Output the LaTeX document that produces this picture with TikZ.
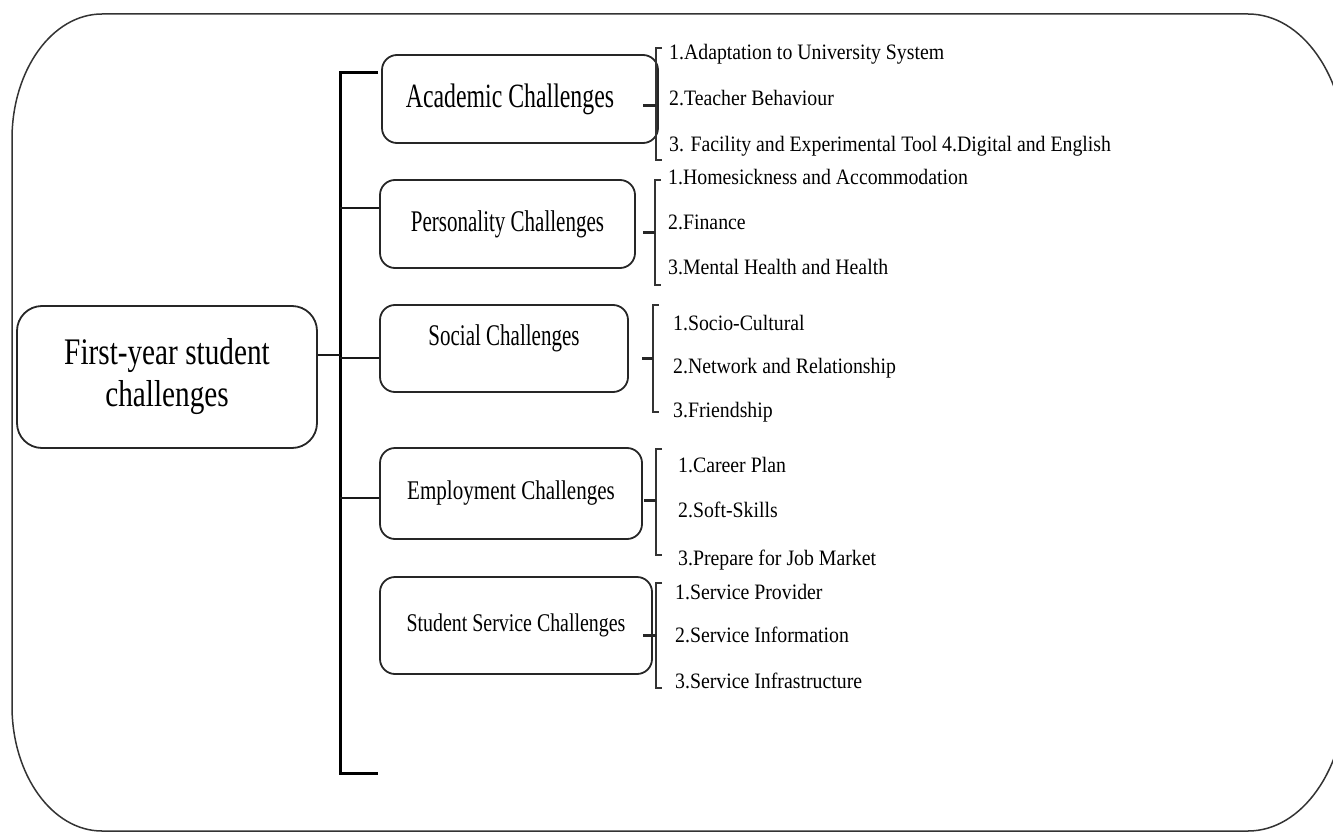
\documentclass[tikz,border=0pt]{standalone}
\usepackage{fontspec}
\setmainfont{Liberation Serif}
\newfontfamily\fA[FakeStretch=0.7]{Liberation Serif}
\newfontfamily\fB[FakeStretch=0.78]{Liberation Serif}
\newfontfamily\fC[FakeStretch=0.9]{Liberation Serif}
\begin{document}
\begin{tikzpicture}[x=1pt,y=1pt,
  box/.style={draw=black!85, line width=1.8pt, rounded corners=15pt, inner sep=0pt, align=center},
  item/.style={anchor=base west, inner sep=0pt, font=\fC\fontsize{22}{26}\selectfont},
  brk/.style={draw=black!80, line width=1.8pt},
  tick/.style={draw=black!85, line width=3pt},
  spine/.style={draw=black, line width=3pt},
  branch/.style={draw=black!90, line width=2pt},
  frame/.style={draw=black!80, line width=1.5pt}]
\useasboundingbox (0,0) rectangle (1333,-832);
\clip (0,0) rectangle (1333,-832);
% outer frame
\draw[frame] (102,-14) -- (1248,-14)
  arc[start angle=90,end angle=0,x radius=98,y radius=140] -- (1346,-691)
  arc[start angle=0,end angle=-90,x radius=98,y radius=140] -- (102,-831)
  arc[start angle=270,end angle=180,x radius=90,y radius=125] -- (12,-139)
  arc[start angle=180,end angle=90,x radius=90,y radius=125] -- cycle;
% main box
\node[box, rounded corners=25pt, minimum width=300pt, minimum height=142pt,
  font=\fB\fontsize{37.5}{42}\selectfont] (main) at (167,-377) {First-year student\\challenges};
% category boxes
\node[box, minimum width=276pt, minimum height=88pt, font=\fA\fontsize{34}{38}\selectfont] (acad) at (520,-99) {Academic Challenges\hspace*{20pt}};
\node[box, minimum width=255pt, minimum height=88pt, font=\fA\fontsize{30}{34}\selectfont] (pers) at (507.5,-224) {Personality Challenges};
\node[box, minimum width=248pt, minimum height=87pt, font=\fA\fontsize{30}{34}\selectfont, text depth=26pt] (soc) at (504,-348.5) {Social Challenges};
\node[box, minimum width=262pt, minimum height=91pt, font=\fB\fontsize{27}{31}\selectfont] (emp) at (511,-493.5) {Employment Challenges};
\node[box, minimum width=272pt, minimum height=97pt, font=\fB\fontsize{25.5}{29}\selectfont] (ss) at (516,-625.5) {Student Service Challenges};
% spine
\coordinate (sT) at (340,-73);
\coordinate (sB) at (340,-773);
\coordinate (sTe) at (378,-73);
\coordinate (sBe) at (378,-773);
\draw[spine] (sTe) -- (sT) -- (sB) -- (sBe);
\draw[branch] (main.east |- 0,-355) -- (340,-355);
\coordinate (bP) at (340,-208);
\coordinate (bS) at (340,-358);
\coordinate (bE) at (340,-498);
\draw[branch] (bP) -- (bP -| pers.west);
\draw[branch] (bS) -- (bS -| soc.west);
\draw[branch] (bE) -- (bE -| emp.west);
% brackets
\draw[brk] (662,-48) -- (656,-48) -- (656,-160) -- (662,-160);
\draw[tick] (656,-106) -- (643,-106);
\draw[brk] (661,-180) -- (655,-180) -- (655,-285) -- (661,-285);
\draw[tick] (655,-232) -- (643,-232);
\draw[brk] (659,-305) -- (653,-305) -- (653,-412) -- (659,-412);
\draw[tick] (653,-358) -- (642,-358);
\draw[brk] (662,-449) -- (656,-449) -- (656,-555) -- (662,-555);
\draw[tick] (656,-500) -- (644,-500);
\draw[brk] (662,-583) -- (656,-583) -- (656,-688) -- (662,-688);
\draw[tick] (656,-635) -- (643,-635);
% items
\node[item] (a1) at (669,-60) {1.Adaptation to University System};
\node[item] (a2) at (669,-106) {2.Teacher Behaviour};
\node[item] (a3) at (669,-152) {3. Facility and Experimental Tool 4.Digital and English};
\node[item] (p1) at (668,-184) {1.Homesickness and Accommodation};
\node[item] (p2) at (668,-229) {2.Finance};
\node[item] (p3) at (668,-274) {3.Mental Health and Health};
\node[item] (s1) at (673,-330) {1.Socio-Cultural};
\node[item] (s2) at (673,-373) {2.Network and Relationship};
\node[item] (s3) at (673,-417) {3.Friendship};
\node[item] (e1) at (678,-472) {1.Career Plan};
\node[item] (e2) at (678,-517) {2.Soft-Skills};
\node[item] (e3) at (678,-565) {3.Prepare for Job Market};
\node[item] (v1) at (675,-599) {1.Service Provider};
\node[item] (v2) at (675,-642) {2.Service Information};
\node[item] (v3) at (675,-688) {3.Service Infrastructure};
\end{tikzpicture}
\end{document}
